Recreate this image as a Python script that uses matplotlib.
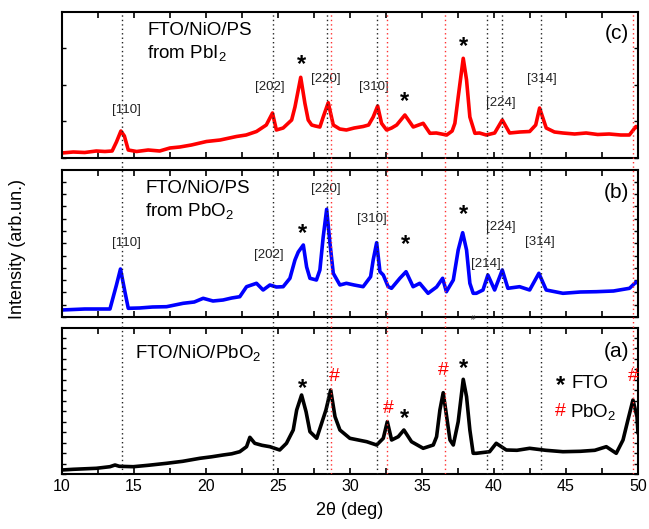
import matplotlib
matplotlib.use("Agg")
import matplotlib.pyplot as plt
from matplotlib.ticker import MultipleLocator

plt.rcParams['font.family'] = ['Liberation Sans', 'DejaVu Sans']
plt.rcParams['mathtext.fontset'] = 'custom'
plt.rcParams['mathtext.rm'] = 'Liberation Sans'
plt.rcParams['mathtext.it'] = 'Liberation Sans:italic'

# ---------------- data ----------------
# panel (c): FTO/NiO/PS from PbI2  (red)
c_x = [10.0, 10.8, 11.6, 12.4, 13.0, 13.5, 13.8, 14.11, 14.35, 14.62, 15.2, 16.0, 16.8, 17.51,
       18.2, 19.0, 20.05, 21.0, 22.13, 22.8, 23.52, 24.2, 24.63, 24.9, 25.37, 25.96, 26.19,
       26.59, 26.88, 27.11, 27.35, 27.6, 27.92, 28.15, 28.5, 28.85, 29.3, 29.76, 30.3, 30.92,
       31.3, 31.62, 31.93, 32.2, 32.55, 32.9, 33.25, 33.82, 34.4, 35.09, 35.56, 36.0, 36.72,
       37.1, 37.29, 37.52, 37.87, 38.1, 38.33, 38.68, 39.0, 39.47, 40.05, 40.58, 41.09, 41.8,
       42.48, 42.9, 43.17, 43.63, 44.2, 44.78, 45.6, 46.4, 47.2, 48.0, 48.8, 49.4, 49.86, 50.0]
c_y = [5, 6, 5.5, 7, 6.5, 7, 16, 27, 22, 8, 6.5, 8, 7, 10, 11, 13, 16.5, 18, 21.5, 23, 26.5,
       33, 45, 28, 30, 38, 51, 80.7, 54.7, 38, 33, 32, 31, 41, 55.3, 33, 29, 28, 30, 31.5, 33,
       41, 52, 34.7, 28, 30, 33, 43, 31, 34.7, 24.7, 25, 23, 27, 34.7, 61, 99.7, 78, 41, 24.7,
       25, 23, 25, 38, 25, 26, 26.5, 33, 50, 30, 26, 25, 24, 25, 23.5, 24, 23, 23, 31.5, 30]

# panel (b): FTO/NiO/PS from PbO2  (blue)
b_x = [10.0, 10.8, 11.6, 12.4, 13.35, 13.8, 14.08, 14.39, 14.62, 15.4, 16.3, 17.28, 18.43,
       19.2, 19.82, 20.5, 21.2, 21.8, 22.36, 22.83, 23.52, 23.98, 24.45, 24.9, 25.37, 25.84,
       26.19, 26.42, 26.77, 27.0, 27.23, 27.68, 27.92, 28.15, 28.39, 28.62, 28.85, 29.31,
       29.76, 30.3, 30.92, 31.44, 31.62, 31.86, 32.09, 32.32, 32.66, 32.89, 33.47, 33.9,
       34.39, 34.85, 35.43, 36.02, 36.44, 36.7, 37.18, 37.52, 37.83, 38.1, 38.33, 38.56,
       38.78, 39.24, 39.58, 40.05, 40.58, 40.97, 41.78, 42.48, 43.12, 43.63, 44.79, 46.0,
       47.1, 48.3, 49.41, 49.87, 50.0]
b_y = [7, 7.5, 8, 8, 8, 32, 48, 25, 8.7, 9, 10, 10.3, 13.7, 15, 18.7, 16, 17, 19, 20.3, 30.3,
       33.7, 27, 32, 30, 30.3, 38.7, 57, 65, 72, 50, 38.7, 37, 47, 80, 107.7, 73.7, 43.7, 32,
       33.7, 32, 30.3, 40.3, 57, 74.3, 45.3, 42, 30.3, 28.7, 38.7, 45.3, 30.3, 33.7, 23.7, 30,
       38.7, 25.3, 37, 67, 84.3, 67, 33.7, 23.7, 23.7, 27, 42, 27, 47, 28.7, 30.3, 27, 43.7,
       27, 23.7, 25, 25.3, 26, 28.7, 35, 34]

# panel (a): FTO/NiO/PbO2  (black)
a_x = [10.0, 10.8, 11.6, 12.4, 13.35, 13.7, 14.0, 14.97, 16.0, 17.28, 18.4, 19.59, 20.4,
       21.2, 21.8, 22.36, 22.83, 23.06, 23.4, 23.9, 24.45, 25.13, 25.6, 26.07, 26.31, 26.65,
       26.96, 27.23, 27.7, 28.04, 28.34, 28.67, 28.97, 29.31, 30.0, 31.17, 31.86, 32.32, 32.6,
       32.9, 33.36, 33.75, 34.28, 35.09, 35.79, 36.02, 36.25, 36.48, 36.72, 36.95, 37.18,
       37.52, 37.87, 38.1, 38.33, 38.56, 38.78, 39.7, 40.16, 40.86, 41.6, 42.48, 43.6, 44.79,
       46.0, 47.0, 47.8, 48.49, 48.96, 49.3, 49.65, 49.93, 50.0]
a_y = [4.3, 5, 5.5, 6, 7.6, 9.3, 8, 7.6, 9, 11, 13, 16, 17.5, 19.3, 20.5, 22.6, 27.6, 37, 31,
       29, 27.6, 24.3, 31, 44.3, 64.3, 79.3, 62.6, 42.6, 36, 51, 64.3, 84.3, 57.6, 44.3, 36,
       32.6, 29.3, 36, 52.6, 34.3, 37.6, 44.3, 32.6, 26, 29.3, 37.6, 64.3, 81.6, 57.6, 34.3,
       29.3, 52.6, 95, 77.6, 44.3, 21, 21, 22.6, 31, 24.3, 24, 26, 24, 22.6, 23, 24, 27.6, 21,
       34.3, 54.3, 74.3, 57.6, 41]

# reference line positions (deg)
black_lines = [14.16, 24.68, 28.4, 31.89, 39.5, 40.58, 43.24]
red_lines = [28.72, 32.6, 36.58, 49.64]

# annotations: (x, y in axes fraction, text)
c_labels = [(14.46, 0.33, '[110]'), (24.45, 0.486, '[202]'), (28.34, 0.54, '[220]'),
            (31.7, 0.486, '[310]'), (40.5, 0.377, '[224]'), (43.3, 0.54, '[314]')]
c_stars = [(26.65, 0.64), (33.8, 0.39), (37.9, 0.765)]
b_labels = [(14.46, 0.505, '[110]'), (24.4, 0.42, '[202]'), (28.34, 0.87, '[220]'),
            (31.56, 0.67, '[310]'), (39.45, 0.358, '[214]'), (40.5, 0.614, '[224]'),
            (43.2, 0.512, '[314]')]
b_stars = [(26.7, 0.57), (33.86, 0.494), (37.9, 0.70)]
a_stars = [(26.7, 0.59), (33.8, 0.38), (37.9, 0.725)]
a_hash = [(28.9, 0.67), (32.7, 0.45), (36.46, 0.714), (49.65, 0.67)]

# ---------------- figure ----------------
W, H = 649, 529
fig = plt.figure(figsize=(W / 100, H / 100), dpi=100)

def fx(px):
    return px / W

def fy(py):
    return 1 - py / H

left, right = 61.7, 638.0
panels = {'c': (12, 158), 'b': (170, 317), 'a': (328.3, 474.3)}
tick_steps = {'c': 36.7, 'b': 12.3, 'a': 10.5}
axes = {}
for key, (top, bot) in panels.items():
    ax = fig.add_axes([fx(left), fy(bot), fx(right - left), (bot - top) / H])
    ax.set_xlim(10, 50)
    ax.set_ylim(0, bot - top)
    ax.xaxis.set_major_locator(MultipleLocator(5))
    ax.xaxis.set_minor_locator(MultipleLocator(2.5))
    ax.yaxis.set_major_locator(MultipleLocator(tick_steps[key]))
    ax.tick_params(which='both', direction='in', top=True, right=True, length=4,
                   width=1.2, labelsize=11.5)
    ax.tick_params(axis='y', labelleft=False, length=3, width=1.0)
    if key != 'a':
        ax.tick_params(axis='x', labelbottom=False)
    for s in ax.spines.values():
        s.set_linewidth(1.5)
    axes[key] = ax

line_kw = dict(lw=2.6, solid_joinstyle='round', solid_capstyle='round')
axes['c'].plot(c_x, c_y, color='#ff0000', **line_kw)
axes['b'].plot(b_x, b_y, color='#0000ff', **line_kw)
axes['a'].plot(a_x, a_y, color='black', **line_kw)

# overlay for reference lines spanning all panels
ov = fig.add_axes([fx(left), fy(474.3), fx(right - left), (474.3 - 12) / H])
ov.set_xlim(10, 50)
ov.set_ylim(0, 1)
ov.axis('off')
ov.patch.set_alpha(0)
for xv in black_lines:
    ov.axvline(xv, color='#222222', lw=1.0, ls=(0, (1, 2.2)))
for xv in red_lines:
    ov.axvline(xv, color='#ff3030', lw=1.0, ls=(0, (1, 2.2)))

lab_fs = 9.5
star_fs = 17
for ax, labels in ((axes['c'], c_labels), (axes['b'], b_labels)):
    for xv, yv, t in labels:
        ax.text(xv, yv, t, transform=ax.get_xaxis_transform(), ha='center', va='center',
                fontsize=lab_fs, color='#222222')
for ax, stars in ((axes['c'], c_stars), (axes['b'], b_stars), (axes['a'], a_stars)):
    for xv, yv in stars:
        ax.text(xv, yv, '*', transform=ax.get_xaxis_transform(), ha='center', va='center',
                fontsize=star_fs, fontweight='bold')
for xv, yv in a_hash:
    axes['a'].text(xv, yv, '#', transform=axes['a'].get_xaxis_transform(), ha='center',
                   va='center', fontsize=14, color='#ff0000')

# sample titles
axes['c'].text(15.95, 0.93, 'FTO/NiO/PS\nfrom PbI$_2$', transform=axes['c'].get_xaxis_transform(),
               ha='left', va='top', fontsize=13.5, linespacing=1.25)
axes['b'].text(15.8, 0.93, 'FTO/NiO/PS\nfrom PbO$_2$', transform=axes['b'].get_xaxis_transform(),
               ha='left', va='top', fontsize=13.5, linespacing=1.25)
axes['a'].text(15.08, 0.83, 'FTO/NiO/PbO$_2$', transform=axes['a'].get_xaxis_transform(),
               ha='left', va='center', fontsize=13.5)

for key, yv in (('c', 0.856), ('b', 0.848), ('a', 0.84)):
    axes[key].text(48.5, yv, '(%s)' % key, transform=axes[key].get_xaxis_transform(),
                   ha='center', va='center', fontsize=15)

# legend-like annotation in panel (a)
axa = axes['a']
axa.text(44.6, 0.61, '*', transform=axa.get_xaxis_transform(), ha='center', va='center',
         fontsize=star_fs, fontweight='bold')
axa.text(45.35, 0.62, 'FTO', transform=axa.get_xaxis_transform(), ha='left', va='center',
         fontsize=13.5)
axa.text(44.6, 0.43, '#', transform=axa.get_xaxis_transform(), ha='center', va='center',
         fontsize=14, color='#ff0000')
axa.text(45.3, 0.43, 'PbO$_2$', transform=axa.get_xaxis_transform(), ha='left', va='center',
         fontsize=13.5)

# small mark between panels b and a
fig.text(fx(473.3), fy(318.5), '#', ha='center', va='center', fontsize=6, color='#333333')

axa.set_xlabel('2\u03b8 (deg)', fontsize=13, labelpad=6)
fig.text(fx(18), fy(249), 'Intensity (arb.un.)', rotation=90, ha='center', va='center',
         fontsize=13)

fig.savefig('out.png', dpi=100)
